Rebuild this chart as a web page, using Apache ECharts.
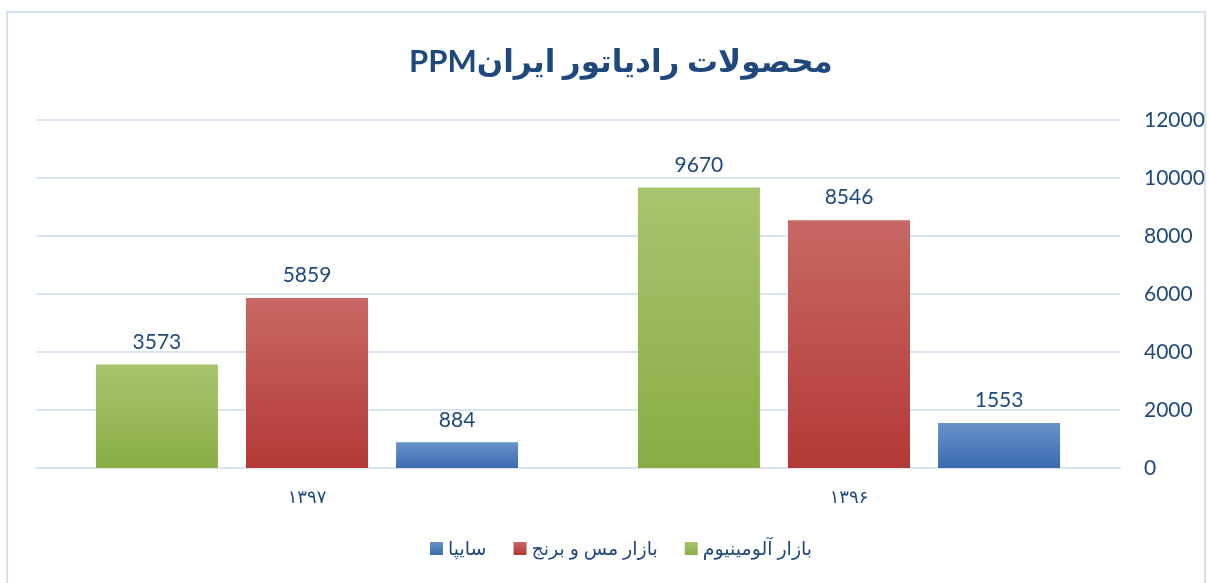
<!DOCTYPE html>
<html>
<head>
<meta charset="utf-8">
<script src="https://cdn.jsdelivr.net/npm/echarts@6/dist/echarts.min.js"></script>
<style>
  html, body { margin: 0; padding: 0; background: #fff; }
  #chart { width: 1209px; height: 583px; }
</style>
</head>
<body>
<div id="chart"></div>
<script>
// data
const years = ['۱۳۹۷', '۱۳۹۶']
const aluminium = [3573, 9670]
const copperBrass = [5859, 8546]
const saipa = [884, 1553]
const yTicks = { min: 0, max: 12000, interval: 2000 }

const FONT = "Lato, 'DejaVu Sans', sans-serif"
const TEXT = '#1f497d'

const grad = (top, bottom) => new echarts.graphic.LinearGradient(0, 0, 0, 1, [
  { offset: 0, color: top },
  { offset: 1, color: bottom },
])

const labelStyle = {
  show: true,
  position: 'top',
  distance: 12,
  color: TEXT,
  fontSize: 21,
  fontFamily: FONT,
}

const chart = echarts.init(document.getElementById('chart'))

chart.setOption({
  animation: false,
  backgroundColor: '#fff',
  textStyle: { fontFamily: FONT },
  graphic: [
    {
      type: 'rect',
      shape: { x: 7, y: 12, width: 1198, height: 575 },
      style: { fill: 'none', stroke: '#d5e1f0', lineWidth: 2 },
      silent: true,
    },
  ],
  title: {
    // RLE ... PDF keeps the right-to-left reading order of the original title
    text: '\u202Bمحصولات رادیاتور ایرانPPM\u202C',
    left: 404,
    top: 41,
    textStyle: { fontSize: 31, fontWeight: 'bold', color: TEXT, fontFamily: FONT },
  },
  legend: {
    data: ['سایپا', 'بازار مس و برنج', 'بازار آلومینیوم'],
    bottom: 20,
    left: 425,
    itemWidth: 13,
    itemHeight: 13,
    itemGap: 27,
    icon: 'rect',
    textStyle: { color: TEXT, fontSize: 19, fontFamily: FONT },
  },
  grid: { left: 36, right: 89, top: 120, bottom: 115 },
  xAxis: {
    type: 'category',
    data: years,
    axisTick: { show: false },
    axisLine: { show: true, lineStyle: { color: '#d9e4f3', width: 2 } },
    axisLabel: { color: TEXT, fontSize: 18, margin: 20, fontFamily: FONT },
  },
  yAxis: {
    type: 'value',
    position: 'right',
    min: yTicks.min,
    max: yTicks.max,
    interval: yTicks.interval,
    axisLine: { show: false },
    axisTick: { show: false },
    axisLabel: {
      color: TEXT,
      fontSize: 21,
      margin: 24,
      fontFamily: FONT,
      formatter: (v) => String(v),
    },
    splitLine: { lineStyle: { color: '#d9e4f3', width: 2 } },
  },
  series: [
    {
      name: 'بازار آلومینیوم',
      type: 'bar',
      data: aluminium,
      barWidth: 122,
      barGap: '23%',
      itemStyle: { color: grad('#a9c46e', '#89ad44') },
      label: labelStyle,
    },
    {
      name: 'بازار مس و برنج',
      type: 'bar',
      data: copperBrass,
      barWidth: 122,
      barGap: '23%',
      itemStyle: { color: grad('#c86864', '#b33936') },
      label: labelStyle,
    },
    {
      name: 'سایپا',
      type: 'bar',
      data: saipa,
      barWidth: 122,
      barGap: '23%',
      itemStyle: { color: grad('#6892c9', '#3b6cae') },
      label: labelStyle,
    },
  ],
})
</script>
</body>
</html>
